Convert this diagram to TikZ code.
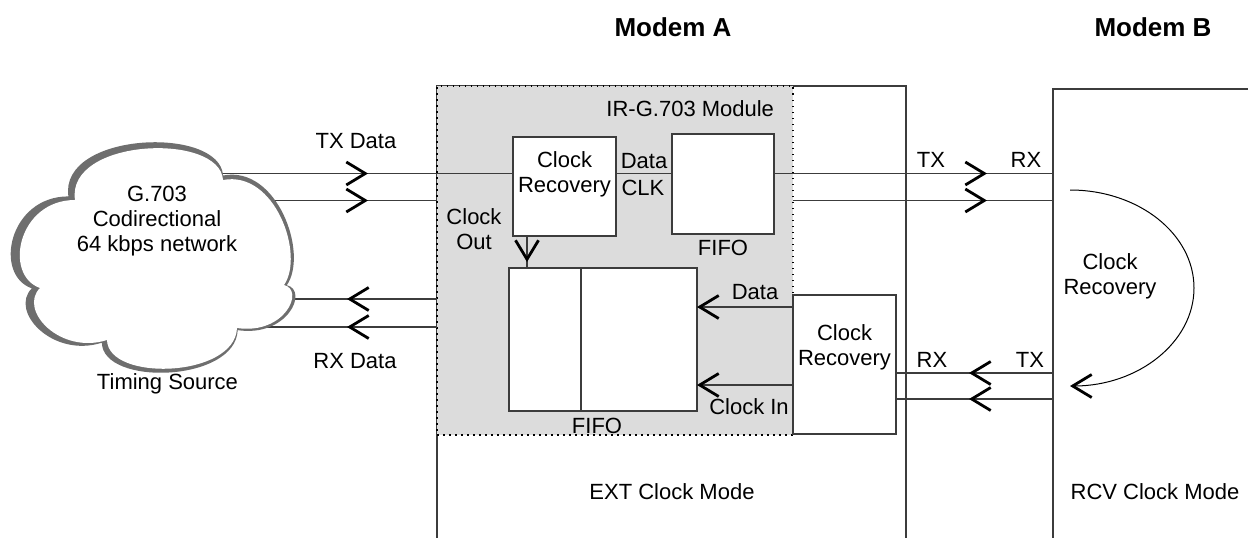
\documentclass[tikz,border=0pt]{standalone}
\usepackage{fontspec}
\setmainfont{Liberation Sans}
\usetikzlibrary{arrows.meta,decorations.markings}
\definecolor{lc}{HTML}{3C3C3C}
\definecolor{shade}{HTML}{DCDCDC}
\definecolor{cgray}{HTML}{6E6E6E}
\begin{document}
\begin{tikzpicture}[x=1pt,y=-1pt,
  every node/.style={font=\fontsize{22}{25}\selectfont, inner sep=0pt, outer sep=0pt},
  ln/.style={draw=lc, line width=1.4pt},
  chev/.style={postaction={decorate,decoration={markings,mark=at position #1 with {\arrow{Straight Barb[length=19pt,width=23pt,line width=2.8pt,color=black]}}}}},
  endchev/.style={-{Straight Barb[length=19pt,width=23pt,line width=2.8pt,color=black]}},
  box/.style={draw=lc, line width=1.4pt, fill=white, align=center, text height=16pt, text depth=5pt},
  lbl/.style={anchor=base},
  lbl2/.style={align=center, text height=16pt, text depth=5pt},
  title/.style={anchor=base, font=\fontsize{26}{30}\selectfont\bfseries},
  module/.style={fill=shade, draw=black, line width=1.5pt, dash pattern=on 1.5pt off 4.5pt}
]
\useasboundingbox (0,0) rectangle (1248,538);
\fill[white] (0,0) rectangle (1248,538);

% modem outlines
\coordinate (ma) at (437,86);
\coordinate (mar) at (906,86);
\coordinate (mb) at (1053,89);
\draw[ln] (437,538) -- (ma) -- (mar) -- (906,538);
\draw[ln] (1248,89) -- (mb) -- (1053,538);

% shaded module
\node[module, anchor=north west, minimum width=356pt, minimum height=349pt] (mod) at (437,86) {};

% row / column helpers
\coordinate (ya) at (0,173.5);
\coordinate (yb) at (0,200.5);
\coordinate (yc) at (0,299);
\coordinate (yd) at (0,327);
\coordinate (ye) at (0,307);
\coordinate (yf) at (0,385);
\coordinate (yg) at (0,373);
\coordinate (yh) at (0,399);
\coordinate (xo) at (527,0);
\coordinate (xd) at (581,0);
\coordinate (cl) at (200,0);

% boxes
\node[box, minimum width=103pt, minimum height=99pt] (cr1) at (564.5,186.5) {Clock\\Recovery};
\node[box, minimum width=102pt, minimum height=100pt] (fifo1) at (723,184) {};
\node[box, minimum width=188pt, minimum height=143pt] (fifo2) at (603,339.5) {};
\node[box, minimum width=103pt, minimum height=139pt, text depth=15pt] (cr2) at (844.5,364.5) {Clock\\Recovery};

% connectors
\draw[ln, chev=-145pt] (cl |- ya) -- (cr1.west |- ya);
\draw[ln] (cr1.east |- ya) -- (fifo1.west |- ya);
\draw[ln, chev=-66pt] (fifo1.east |- ya) -- (mb |- ya);
\draw[ln, chev=-69pt] (cl |- yb) -- (ma |- yb);
\draw[ln, chev=-66pt] (mod.east |- yb) -- (mb |- yb);
\draw[ln, chev=90pt] (ma |- yc) -- (cl |- yc);
\draw[ln, chev=90pt] (ma |- yd) -- (cl |- yd);
\draw[ln, chev=-6pt] (cr1.south -| xo) -- (fifo2.north -| xo);
\draw[ln, endchev] (cr2.west |- ye) -- (fifo2.east |- ye);
\draw[ln, endchev] (cr2.west |- yf) -- (fifo2.east |- yf);
\draw[ln, chev=84pt] (mb |- yg) -- (cr2.east |- yg);
\draw[ln, chev=84pt] (mb |- yh) -- (cr2.east |- yh);
\draw[ln] (fifo2.north -| xd) -- (fifo2.south -| xd);
\coordinate (cs) at (1070,190);
\draw[black, line width=1pt, endchev] (cs) arc[start angle=-90, end angle=90, x radius=124, y radius=98];

% cloud
\begin{scope}[shift={(152,257)},scale=1.045,shift={(-155,-258)}]
\fill[cgray] (75,200) .. controls (66,138) and (220,132) .. (223,180)
  .. controls (275,170) and (305,255) .. (284,285)
  .. controls (305,290) and (285,335) .. (237,328)
  .. controls (235,378) and (108,382) .. (107,340)
  .. controls (60,355) and (18,310) .. (40,288)
  .. controls (3,275) and (18,200) .. (75,200) -- cycle;
\end{scope}
\fill[white] (75,200) .. controls (66,138) and (220,132) .. (223,180)
  .. controls (275,170) and (305,255) .. (284,285)
  .. controls (305,290) and (285,335) .. (237,328)
  .. controls (235,378) and (108,382) .. (107,340)
  .. controls (60,355) and (18,310) .. (40,288)
  .. controls (3,275) and (18,200) .. (75,200) -- cycle;

% texts
\node[lbl2] (cloudtxt) at (157,245.5) {G.703\\Codirectional\\64 kbps network};
\node[lbl] (txd) at (356,148) {TX Data};
\node[lbl] (rxd) at (355,368) {RX Data};
\node[lbl] (ts) at (167.5,389) {Timing Source};
\node[title] (ta) at (673,36) {Modem A};
\node[title] (tb) at (1153,36) {Modem B};
\node[lbl, anchor=base east] (irg) at (774,116) {IR-G.703 Module};
\node[lbl] (dclk1) at (644,168) {Data};
\node[lbl] (dclk2) at (643,195) {CLK};
\node[lbl] (f1) at (723,255) {FIFO};
\node[lbl] (f2) at (597,433) {FIFO};
\node[lbl2] (cout) at (474,244) {Clock\\Out};
\node[lbl] (dl) at (755,299) {Data};
\node[lbl] (cin) at (749,414) {Clock In};
\node[lbl] (tx1) at (931,167) {TX};
\node[lbl] (rx1) at (1026,167) {RX};
\node[lbl] (rx2) at (932,367) {RX};
\node[lbl] (tx2) at (1030,367) {TX};
\node[lbl2] (bcr) at (1110,289) {Clock\\Recovery};
\node[lbl] (ext) at (672,499) {EXT Clock Mode};
\node[lbl] (rcv) at (1155,499) {RCV Clock Mode};
\end{tikzpicture}
\end{document}
